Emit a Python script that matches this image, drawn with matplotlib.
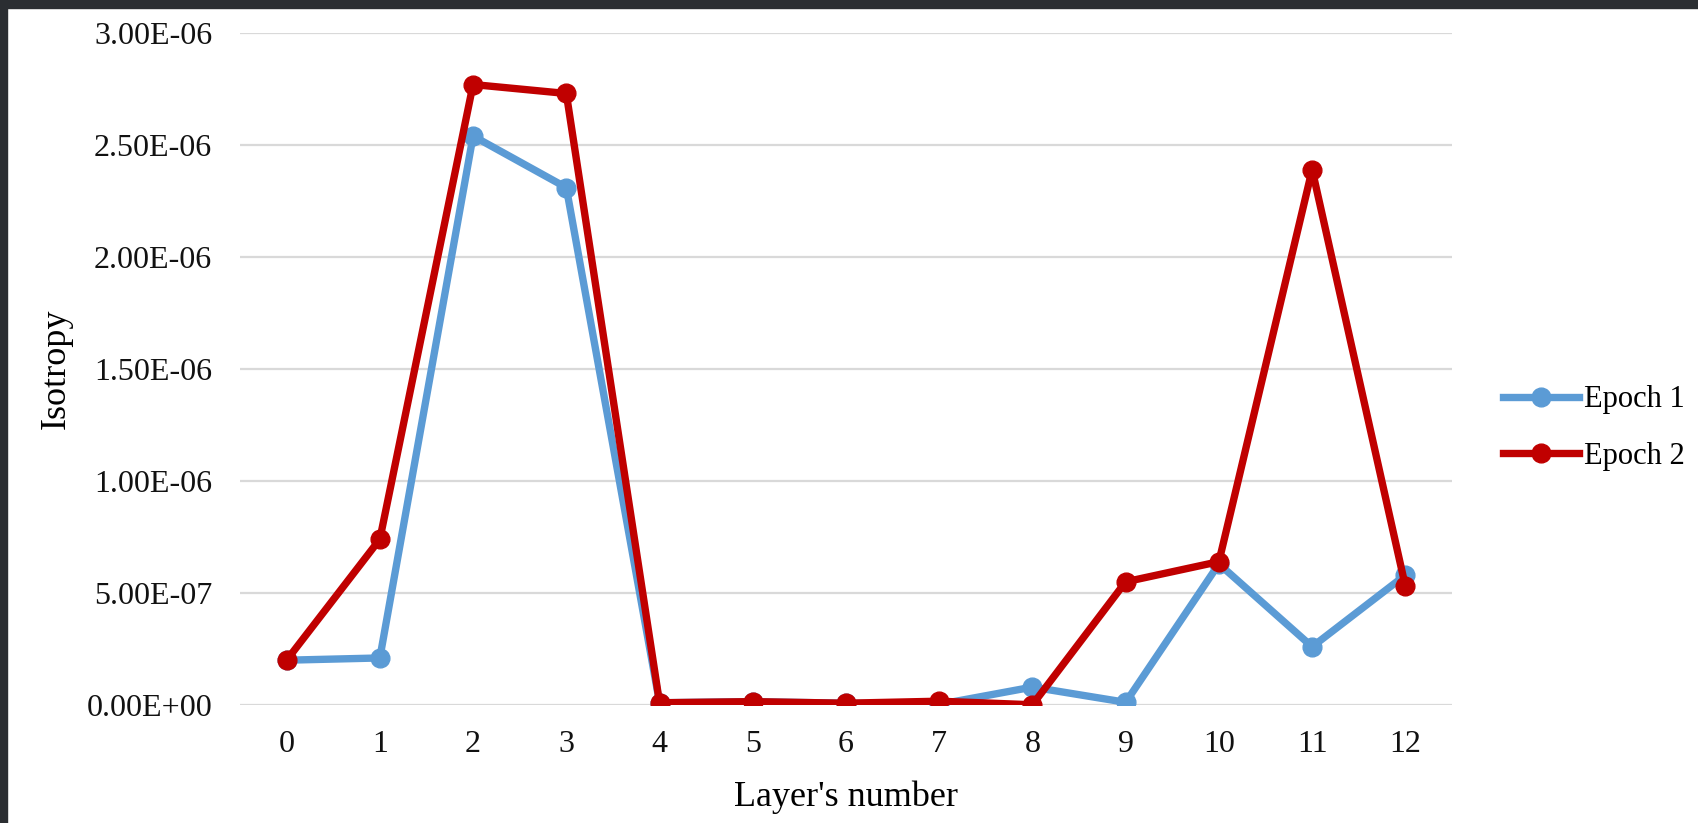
import matplotlib.pyplot as plt
from matplotlib.patches import Rectangle
from matplotlib.ticker import FuncFormatter

plt.rcParams['font.family'] = ['Liberation Serif', 'DejaVu Serif']

# isotropy per layer, two training epochs
layers = list(range(13))
epoch1 = [2.0e-7, 2.1e-7, 2.54e-6, 2.31e-6, 1.0e-8, 1.5e-8, 8.0e-9, 3.0e-9,
          8.0e-8, 1.2e-8, 6.3e-7, 2.6e-7, 5.8e-7]
epoch2 = [2.0e-7, 7.4e-7, 2.77e-6, 2.73e-6, 1.0e-8, 1.5e-8, 8.0e-9, 1.7e-8,
          1.0e-9, 5.5e-7, 6.4e-7, 2.39e-6, 5.3e-7]
yticks = [0, 5e-7, 1e-6, 1.5e-6, 2e-6, 2.5e-6, 3e-6]

fig = plt.figure(figsize=(16.99, 8.23), dpi=100)
ax = fig.add_axes([240 / 1699, 1 - 705 / 823, 1212 / 1699, 672 / 823])

ax.plot(layers, epoch1, color='#5B9BD5', lw=5.3, marker='o', ms=13.5,
        label='Epoch 1', solid_joinstyle='round', zorder=3)
ax.plot(layers, epoch2, color='#C00000', lw=5.3, marker='o', ms=13.5,
        label='Epoch 2', solid_joinstyle='round', zorder=4)

ax.set_xlim(-0.5, 12.5)
ax.set_ylim(0, 3e-6)
ax.set_xticks(layers)
ax.set_yticks(yticks)
ax.yaxis.set_major_formatter(FuncFormatter(lambda v, p: f"{v:.2E}"))
ax.tick_params(length=0, labelsize=23, colors='#111111')
ax.tick_params(axis='y', pad=20)
ax.tick_params(axis='x', pad=18)
for s in ax.spines.values():
    s.set_visible(False)
ax.grid(axis='y', color='#d9d9d9', lw=1.6)
ax.set_axisbelow(True)

ax.set_xlabel("Layer's number", fontsize=26, labelpad=15.5)
ax.set_ylabel("Isotropy", fontsize=26, labelpad=10)

fig.legend(loc='center left', bbox_to_anchor=(1503 / 1699, 1 - 428 / 823),
           frameon=False, fontsize=22, handlelength=2.5, handletextpad=0.16,
           borderpad=0, borderaxespad=0, labelspacing=0.9)

# dark window border at the top and left
fig.patches.append(Rectangle((0, 1 - 8 / 823), 1, 8 / 823, transform=fig.transFigure,
                             color='#2b2e32', zorder=10))
fig.patches.append(Rectangle((0, 0), 7 / 1699, 1, transform=fig.transFigure,
                             color='#2b2e32', zorder=10))

fig.savefig('out.png', dpi=100)
